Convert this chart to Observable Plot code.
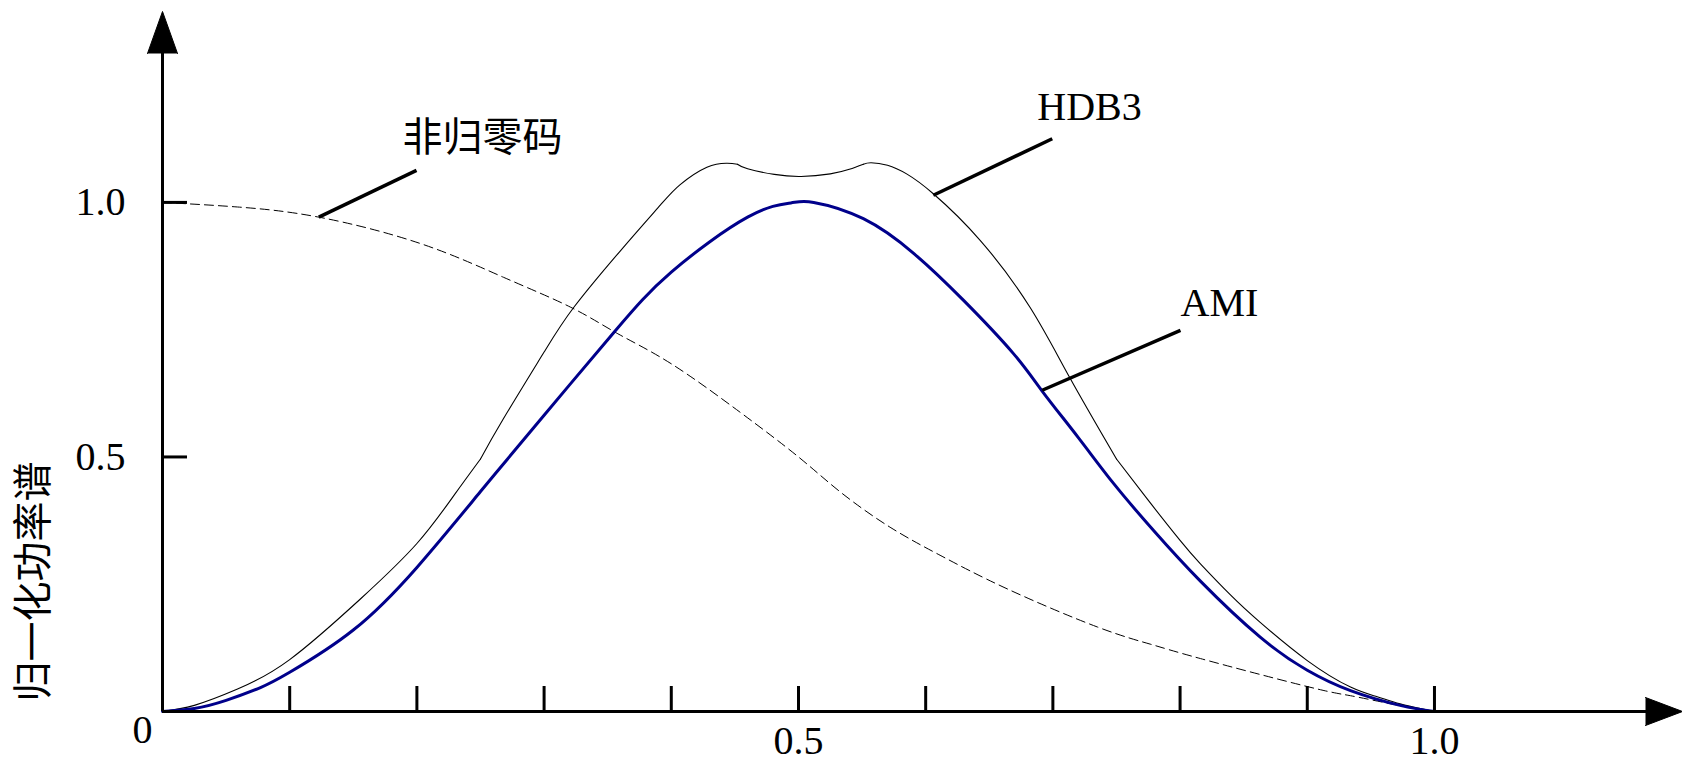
<!DOCTYPE html>
<html>
<head>
<meta charset="utf-8">
<script src="https://cdn.jsdelivr.net/npm/d3@7"></script>
<script src="https://cdn.jsdelivr.net/npm/@observablehq/plot@0.6"></script>
<style>
html, body { margin: 0; padding: 0; background: #fff; }
#chart { width: 1682px; height: 760px; }
</style>
</head>
<body>
<div id="chart"></div>
<script>
// ---- data (x = normalized frequency, y = normalized PSD) ----
const nrzX = [0, 0.059, 0.123, 0.203, 0.268, 0.321, 0.358, 0.4, 0.454, 0.5, 0.533, 0.572, 0.612, 0.664, 0.735, 0.777, 0.816, 0.9, 0.934, 0.97, 1.0];
const nrzY = [1.0, 0.991, 0.971, 0.919, 0.853, 0.794, 0.742, 0.683, 0.588, 0.5, 0.431, 0.362, 0.306, 0.241, 0.166, 0.132, 0.104, 0.049, 0.031, 0.013, 0];

const amiX = [0, 0.025, 0.05, 0.077, 0.1, 0.15, 0.2, 0.25, 0.3, 0.356, 0.4, 0.46, 0.494, 0.512, 0.551, 0.591, 0.63, 0.669, 0.692, 0.72, 0.748, 0.779, 0.816, 0.863, 0.9, 0.934, 0.973, 1.0];
const amiY = [0, 0.006, 0.022, 0.047, 0.077, 0.16, 0.283, 0.432, 0.582, 0.748, 0.863, 0.971, 0.999, 1.0, 0.968, 0.899, 0.807, 0.703, 0.628, 0.538, 0.447, 0.356, 0.256, 0.146, 0.081, 0.041, 0.012, 0];

const hdb3X = [0, 0.025, 0.059, 0.1, 0.156, 0.2, 0.229, 0.25, 0.268, 0.3, 0.3234, 0.36, 0.3915, 0.407, 0.428, 0.444, 0.452, 0.46, 0.481, 0.502, 0.525, 0.54, 0.551, 0.557, 0.57, 0.585, 0.606, 0.643, 0.682, 0.713, 0.75, 0.774, 0.8, 0.816, 0.84, 0.863, 0.9, 0.934, 0.955, 0.973, 1.0];
const hdb3Y = [0, 0.012, 0.044, 0.102, 0.222, 0.33, 0.424, 0.496, 0.575, 0.706, 0.794, 0.905, 0.995, 1.035, 1.069, 1.077, 1.075, 1.066, 1.055, 1.051, 1.056, 1.065, 1.075, 1.078, 1.073, 1.056, 1.017, 0.925, 0.794, 0.657, 0.496, 0.418, 0.336, 0.29, 0.228, 0.175, 0.1, 0.048, 0.029, 0.015, 0];
const hdb3Breaks = [0.25, 0.452, 0.551, 0.75]; // corners of the HDB3 curve

const xTicks = [0.1, 0.2, 0.3, 0.4, 0.5, 0.6, 0.7, 0.8, 0.9, 1.0];
const xLabelValues = [0.5, 1.0];
const xLabelTexts = ["0.5", "1.0"];
const yTicks = [0.5, 1.0];
const yLabelTexts = ["0.5", "1.0"];
const originText = "0";
const yTitle = "归一化功率谱";

const seriesNames = ["非归零码", "HDB3", "AMI"];
const nameX = [0.2516, 0.7288, 0.831];
const nameY = [1.1267, 1.1866, 0.8016];
const leaderX1 = [0.1229, 0.606, 0.6916];
const leaderY1 = [0.971, 1.014, 0.631];
const leaderX2 = [0.1997, 0.6995, 0.8003];
const leaderY2 = [1.063, 1.125, 0.7485];

// ---- tables built from the arrays ----
const nrz = nrzX.map((x, i) => ({x, y: nrzY[i]}));
const ami = amiX.map((x, i) => ({x, y: amiY[i]}));
const hdb3 = [];
hdb3X.forEach((x, i) => {
  const seg = hdb3Breaks.filter(b => b < x - 1e-9).length;
  hdb3.push({x, y: hdb3Y[i], seg});
  if (hdb3Breaks.some(b => Math.abs(b - x) < 1e-9)) hdb3.push({x, y: hdb3Y[i], seg: seg + 1});
});
const names = seriesNames.map((t, i) => ({t, x: nameX[i], y: nameY[i], x1: leaderX1[i], y1: leaderY1[i], x2: leaderX2[i], y2: leaderY2[i]}));

const serif = "'Liberation Serif', 'Times New Roman', serif";
const cjk = "'Liberation Serif', 'Noto Sans CJK SC', sans-serif";

const chart = Plot.plot({
  width: 1682,
  height: 760,
  marginLeft: 162,
  marginRight: 0,
  marginTop: 11,
  marginBottom: 49,
  x: {domain: [0, 1.195], axis: null},
  y: {domain: [0, 1.375], axis: null},
  style: {background: "white", overflow: "visible", fontFamily: serif},
  marks: [
    // curves
    Plot.line(nrz, {x: "x", y: "y", stroke: "black", strokeWidth: 1, strokeDasharray: "9,5", curve: "natural"}),
    Plot.line(hdb3, {x: "x", y: "y", z: "seg", stroke: "black", strokeWidth: 1.1, curve: "natural"}),
    Plot.line(ami, {x: "x", y: "y", stroke: "#00008b", strokeWidth: 3, curve: "natural"}),

    // axis lines
    Plot.ruleY([0], {x1: 0, x2: 1.17, stroke: "black", strokeWidth: 3}),
    Plot.ruleX([0], {y1: 0, y2: 1.32, stroke: "black", strokeWidth: 3}),
    // arrow heads
    Plot.vector([{x: 0, y: 1.375}], {x: "x", y: "y", anchor: "end", length: 42, r: 15, rotate: 0, shape: "spike", fill: "black", stroke: "black", strokeWidth: 1}),
    Plot.vector([{x: 1.195, y: 0}], {x: "x", y: "y", anchor: "end", length: 37, r: 14, rotate: 90, shape: "spike", fill: "black", stroke: "black", strokeWidth: 1}),

    // inward ticks
    Plot.axisX(xTicks, {anchor: "bottom", tickSize: 25, dy: -25, fill: "none", label: null, stroke: "black", strokeWidth: 3}),
    Plot.axisY(yTicks, {anchor: "left", tickSize: 25, dx: 25, fill: "none", label: null, stroke: "black", strokeWidth: 3}),

    // tick labels
    Plot.text(xLabelValues, {x: d => d, y: 0, text: (d, i) => xLabelTexts[i], dy: 30, fontSize: 40, fontFamily: serif, fill: "black", lineAnchor: "middle", textAnchor: "middle"}),
    Plot.text(yTicks, {x: 0, y: d => d, text: (d, i) => yLabelTexts[i], dx: -37, fontSize: 40, fontFamily: serif, fill: "black", textAnchor: "end"}),
    Plot.text([originText], {x: 0, y: 0, text: d => d, dx: -20, dy: 19, fontSize: 40, fontFamily: serif, fill: "black"}),
    Plot.text([yTitle], {x: 0, y: 0.2554, text: d => d, dx: -128, rotate: -90, fontSize: 40, fontFamily: cjk, fill: "black"}),

    // series labels with leader lines
    Plot.link(names, {x1: "x1", y1: "y1", x2: "x2", y2: "y2", stroke: "black", strokeWidth: 3.5}),
    Plot.text(names, {x: "x", y: "y", text: "t", fontSize: 40, fontFamily: cjk, fill: "black"})
  ]
});
document.getElementById("chart").appendChild(chart);
</script>
</body>
</html>
